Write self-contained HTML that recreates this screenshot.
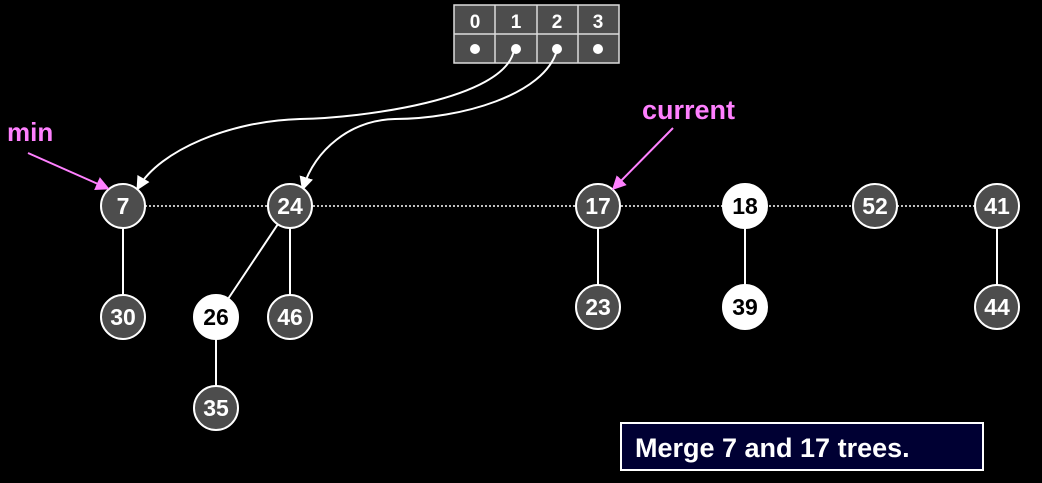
<!DOCTYPE html>
<html><head><style>
html,body{margin:0;padding:0;background:#000;}
svg{display:block;}
text{font-family:"Liberation Sans",sans-serif;font-weight:bold;}
</style></head><body>
<svg width="1042" height="483" viewBox="0 0 1042 483" xmlns="http://www.w3.org/2000/svg">
<defs>
<marker id="aw" markerWidth="14" markerHeight="14" refX="11" refY="7" orient="auto" markerUnits="userSpaceOnUse" viewBox="0 0 14 14"><path d="M0,0 L14,7 L0,14 z" fill="#fff"/></marker>
<marker id="ap" markerWidth="14" markerHeight="14" refX="11" refY="7" orient="auto" markerUnits="userSpaceOnUse" viewBox="0 0 14 14"><path d="M0,0 L14,7 L0,14 z" fill="#ff80ff"/></marker>
</defs>
<rect width="1042" height="483" fill="#000"/>
<g stroke="#ddd" stroke-width="1.5" fill="#4d4d4d">
<rect x="454" y="5" width="165" height="58"/>
<line x1="495" y1="5" x2="495" y2="63"/><line x1="537" y1="5" x2="537" y2="63"/><line x1="578" y1="5" x2="578" y2="63"/>
<line x1="454" y1="34" x2="619" y2="34"/>
</g>
<g fill="#fff" font-size="19" text-anchor="middle">
<text x="475" y="28">0</text><text x="516" y="28">1</text><text x="557" y="28">2</text><text x="598" y="28">3</text>
</g>
<g fill="#fff"><circle cx="475" cy="49" r="5"/><circle cx="516" cy="49" r="5"/><circle cx="557" cy="49" r="5"/><circle cx="598" cy="49" r="5"/></g>
<g fill="none" stroke="#fff" stroke-width="2">
<path d="M514,50 C505,100 360,118 300,119 C230,121 160,150 138,188" marker-end="url(#aw)"/>
<path d="M557,50 C545,95 460,119 395,119 C350,120 315,150 303,188" marker-end="url(#aw)"/>
</g>
<line x1="145" y1="206" x2="975" y2="206" stroke="#fff" stroke-width="1.5" stroke-dasharray="2,2"/>
<g stroke="#fff" stroke-width="2">
<line x1="123" y1="206" x2="123" y2="317"/>
<line x1="290" y1="206" x2="290" y2="317"/>
<line x1="290" y1="206" x2="216" y2="317"/>
<line x1="216" y1="317" x2="216" y2="408"/>
<line x1="598" y1="206" x2="598" y2="307"/>
<line x1="745" y1="206" x2="745" y2="307"/>
<line x1="997" y1="206" x2="997" y2="307"/>
</g>
<g stroke="#fff" stroke-width="2" fill="#4d4d4d">
<circle cx="123" cy="206" r="22"/><circle cx="290" cy="206" r="22"/>
<circle cx="123" cy="317" r="22"/><circle cx="216" cy="317" r="22" fill="#fff"/><circle cx="290" cy="317" r="22"/>
<circle cx="216" cy="408" r="22"/>
<circle cx="598" cy="206" r="22"/><circle cx="598" cy="307" r="22"/>
<circle cx="745" cy="206" r="22" fill="#fff"/><circle cx="745" cy="307" r="22" fill="#fff"/>
<circle cx="875" cy="206" r="22"/><circle cx="997" cy="206" r="22"/><circle cx="997" cy="307" r="22"/>
</g>
<g fill="#fff" font-size="23" text-anchor="middle">
<text x="123" y="214">7</text><text x="290" y="214">24</text>
<text x="123" y="325">30</text><text x="216" y="325" fill="#000">26</text><text x="290" y="325">46</text>
<text x="216" y="416">35</text>
<text x="598" y="214">17</text><text x="598" y="315">23</text>
<text x="745" y="214" fill="#000">18</text><text x="745" y="315" fill="#000">39</text>
<text x="875" y="214">52</text><text x="997" y="214">41</text><text x="997" y="315">44</text>
</g>
<text x="7" y="141" fill="#ff80ff" font-size="26">min</text>
<line x1="28" y1="153" x2="107" y2="188" stroke="#ff80ff" stroke-width="2" marker-end="url(#ap)"/>
<text x="642" y="119" fill="#ff80ff" font-size="27">current</text>
<line x1="673" y1="128" x2="614" y2="188" stroke="#ff80ff" stroke-width="2" marker-end="url(#ap)"/>
<rect x="621" y="423" width="362" height="47" fill="#000033" stroke="#fff" stroke-width="2"/>
<text x="635" y="457" fill="#fff" font-size="27">Merge 7 and 17 trees.</text>
</svg>
</body></html>
